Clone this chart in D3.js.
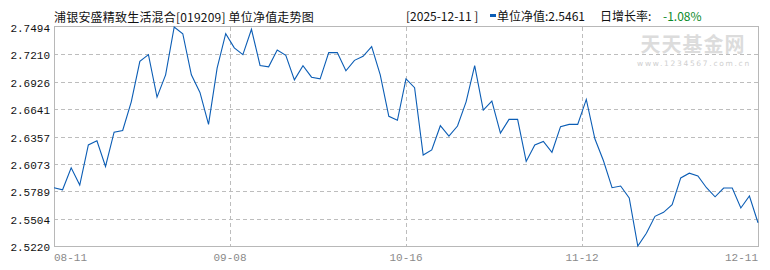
<!DOCTYPE html>
<html>
<head>
<meta charset="utf-8">
<script src="https://cdn.jsdelivr.net/npm/d3@7"></script>
<style>
  html, body { margin: 0; padding: 0; background: #fff; }
  svg { display: block; }
</style>
</head>
<body>
<svg width="770" height="270"></svg>
<script>
// unit NAV, one value per trading day 08-11 .. 12-11
var navValues = [
  2.5825, 2.5804, 2.6032, 2.5853, 2.6270, 2.6312, 2.6046, 2.6402, 2.6420, 2.6717,
  2.7137, 2.7207, 2.6766, 2.6997, 2.7494, 2.7424, 2.6997, 2.6815, 2.6483, 2.7067,
  2.7424, 2.7277, 2.7207, 2.7470, 2.7095, 2.7081, 2.7256, 2.7200, 2.6945, 2.7092,
  2.6973, 2.6955, 2.7228, 2.7228, 2.7039, 2.7148, 2.7190, 2.7291, 2.6997, 2.6567,
  2.6525, 2.6955, 2.6864, 2.6165, 2.6217, 2.6469, 2.6361, 2.6466, 2.6717, 2.7092,
  2.6630, 2.6724, 2.6392, 2.6535, 2.6535, 2.6098, 2.6270, 2.6305, 2.6193, 2.6459,
  2.6483, 2.6483, 2.6742, 2.6333, 2.6105, 2.5825, 2.5843, 2.5720, 2.5220, 2.5353,
  2.5528, 2.5570, 2.5650, 2.5927, 2.5976, 2.5948, 2.5825, 2.5731, 2.5822, 2.5822,
  2.5615, 2.5739, 2.5461
];
var xLabels = ["08-11", "09-08", "10-16", "11-12", "12-11"];
var yTicks = ["2.7494", "2.7210", "2.6926", "2.6641", "2.6357", "2.6073", "2.5789", "2.5504", "2.5220"];

var title = "浦银安盛精致生活混合[019209] 单位净值走势图";
var lastDate = "2025-12-11";
var lastNav = "2.5461";
var lastChange = "-1.08%";

var svg = d3.select("svg");
var L = 54, R = 758, T = 27, B = 246;
var cjk = "'Noto Sans CJK SC', 'Noto Sans', sans-serif";
var mono = "'Liberation Mono', 'DejaVu Sans Mono', monospace";
var lineColor = "#0b5db5";
var gridColor = "#bdbdbd";

var x = d3.scaleLinear().domain([0, navValues.length - 1]).range([L, R]);
var y = d3.scaleLinear().domain([+yTicks[yTicks.length - 1], +yTicks[0]]).range([B, T]);
var xl = d3.scalePoint().domain(xLabels).range([L, R]);

function crisp(v) { return Math.round(v) + 0.5; }

// watermark
svg.append("text")
    .attr("x", 693).attr("y", 52)
    .attr("text-anchor", "middle")
    .attr("font-family", cjk).attr("font-size", 20).attr("font-weight", "bold")
    .attr("fill", "#dcdcdc")
    .attr("letter-spacing", 1)
    .text("天天基金网");
svg.append("text")
    .attr("x", 694).attr("y", 66)
    .attr("text-anchor", "middle")
    .attr("font-family", "'DejaVu Sans', sans-serif").attr("font-size", 7.5)
    .attr("fill", "#cfcfcf")
    .attr("letter-spacing", 1.7)
    .text("www.1234567.com.cn");

// horizontal grid
svg.append("g").selectAll("line")
    .data(yTicks.slice(1, -1))
    .join("line")
    .attr("x1", L).attr("x2", R)
    .attr("y1", function (d) { return crisp(y(+d)); })
    .attr("y2", function (d) { return crisp(y(+d)); })
    .attr("stroke", gridColor).attr("stroke-dasharray", "4,3")
    .attr("shape-rendering", "crispEdges");

// vertical grid
svg.append("g").selectAll("line")
    .data(xLabels.slice(1, -1))
    .join("line")
    .attr("y1", T).attr("y2", B)
    .attr("x1", function (d) { return crisp(xl(d)); })
    .attr("x2", function (d) { return crisp(xl(d)); })
    .attr("stroke", gridColor).attr("stroke-dasharray", "4,3")
    .attr("shape-rendering", "crispEdges");

// frame
svg.append("rect")
    .attr("x", crisp(L)).attr("y", crisp(T) - 1)
    .attr("width", R - L).attr("height", B - T + 1)
    .attr("fill", "none").attr("stroke", "#b8b8b8")
    .attr("shape-rendering", "crispEdges");

// nav line
var line = d3.line()
    .x(function (d, i) { return x(i); })
    .y(function (d) { return y(d); });
svg.append("path")
    .datum(navValues)
    .attr("d", line)
    .attr("fill", "none")
    .attr("stroke", lineColor)
    .attr("stroke-width", 1.1);

// y labels
svg.append("g").selectAll("text")
    .data(yTicks)
    .join("text")
    .attr("x", L - 4)
    .attr("y", function (d) { return y(+d) + 5; })
    .attr("text-anchor", "end")
    .attr("font-family", mono).attr("font-size", 11)
    .attr("fill", "#111")
    .text(function (d) { return d; });

// x labels
svg.append("g").selectAll("text")
    .data(xLabels)
    .join("text")
    .attr("x", function (d) { return xl(d); })
    .attr("y", 261)
    .attr("text-anchor", function (d, i) { return i === 0 ? "start" : (i === xLabels.length - 1 ? "end" : "middle"); })
    .attr("font-family", mono).attr("font-size", 11)
    .attr("fill", "#8a8a8a")
    .text(function (d) { return d; });

// title
svg.append("text")
    .attr("x", 54).attr("y", 22)
    .attr("font-family", cjk).attr("font-size", 12)
    .attr("letter-spacing", 0.2)
    .attr("fill", "#111")
    .text(title);

// latest value header
var hdr = svg.append("g").attr("font-family", cjk).attr("font-size", 12).attr("fill", "#111");
hdr.append("text").attr("x", 406).attr("y", 21).text("[" + lastDate + " ]");
hdr.append("rect").attr("x", 490).attr("y", 14).attr("width", 6).attr("height", 3).attr("fill", lineColor);
hdr.append("text").attr("x", 497).attr("y", 21).text("单位净值:" + lastNav);
hdr.append("text").attr("x", 600).attr("y", 21).text("日增长率:");
hdr.append("text").attr("x", 663).attr("y", 21).attr("fill", "#0a8a2a").text(lastChange);
</script>
</body>
</html>
